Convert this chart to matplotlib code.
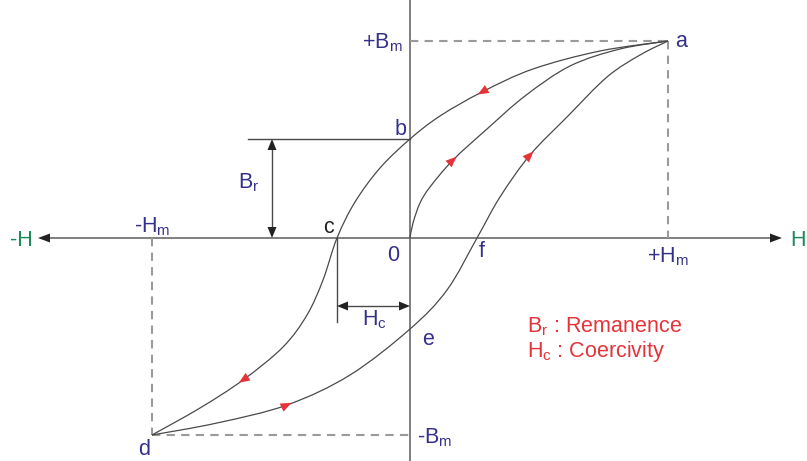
import numpy as np
import matplotlib
matplotlib.use("Agg")
import matplotlib.pyplot as plt
from matplotlib.patches import Polygon, PathPatch
from matplotlib.path import Path

plt.rcParams['font.family'] = ['Liberation Sans', 'DejaVu Sans']
plt.rcParams['mathtext.fontset'] = 'custom'
plt.rcParams['mathtext.rm'] = 'Liberation Sans'

# ---- data (arbitrary units) ----
Hm = 258
Bm = 197
Br = 99
Hc = -73

# descending branch a -> b -> c -> d
upper_H = [258, 190, 123, 72, 30, 0, -30, -55, -73, -87, -103, -127, -167, -210, -258]
upper_B = [197, 187, 169, 146, 122, 99, 70, 36, 0, -42, -77, -109, -142, -170, -197]
# ascending branch d -> e -> f -> a
lower_H = [-258, -193, -123, -60, 0, 37, 67, 90, 120, 157, 197, 230, 258]
lower_B = [-197, -185, -167, -137, -91, -52, 0, 41, 83, 121, 161, 183, 197]
# initial magnetisation 0 -> a
init_H = [0, 3, 10, 20, 43, 77, 115, 160, 210, 258]
init_B = [0, 15, 35, 51, 78, 109, 142, 172, 189, 197]

# red direction arrows: (curve, H position, direction of travel in H)
arrow_marks = [("upper", 72, -1), ("init", 43, 1), ("lower", 120, 1),
               ("upper", -167, -1), ("lower", -123, 1)]

NAVY = '#35308A'
RED = '#E5333A'
GREEN = '#1B8A5A'
LINE = '#4a4a4a'
AXIS = '#6a6a6a'
DASH = '#9a9a9a'

fig = plt.figure(figsize=(8.07, 4.61), dpi=100)
ax = fig.add_axes([0, 0, 1, 1])
ax.set_xlim(-410, 397)
ax.set_ylim(-223, 238)
ax.axis('off')

# axes
ax.plot([-360, 360], [0, 0], color=AXIS, lw=1.2, zorder=1)
ax.plot([0, 0], [-223, 238], color=AXIS, lw=1.2, zorder=1)

def tri(tip, d, length, half, color):
    d = np.asarray(d, float); d /= np.hypot(*d)
    n = np.array([-d[1], d[0]])
    tip = np.asarray(tip, float)
    base = tip - d * length
    ax.add_patch(Polygon([tip, base + n * half, base - n * half], closed=True,
                         facecolor=color, edgecolor='none', zorder=5))

tri((-372, 0), (-1, 0), 12, 4.5, '#222')
tri((372, 0), (1, 0), 12, 4.5, '#222')

# dashed guides
dkw = dict(color=DASH, lw=1.5, dashes=(4, 3), zorder=1)
ax.plot([0, Hm], [Bm, Bm], **dkw)
ax.plot([Hm, Hm], [Bm, 0], **dkw)
ax.plot([-Hm, -Hm], [0, -Bm], **dkw)
ax.plot([-Hm, 0], [-Bm, -Bm], **dkw)

# curves drawn as smooth Bezier paths through the read points
def smooth_path(H, B):
    P = np.column_stack([H, B]).astype(float)
    Q = np.vstack([P[0], P, P[-1]])
    verts = [P[0]]
    codes = [Path.MOVETO]
    for i in range(1, len(Q) - 2):
        p0, p1, p2, p3 = Q[i - 1], Q[i], Q[i + 1], Q[i + 2]
        verts += [p1 + (p2 - p0) / 6, p2 - (p3 - p1) / 6, p2]
        codes += [Path.CURVE4] * 3
    return Path(verts, codes)

curves = {"upper": (upper_H, upper_B), "lower": (lower_H, lower_B), "init": (init_H, init_B)}
for H, B in curves.values():
    ax.add_patch(PathPatch(smooth_path(H, B), facecolor='none', edgecolor=LINE,
                           lw=0.9, zorder=3))

for name, h0, s in arrow_marks:
    H, B = np.array(curves[name][0], float), np.array(curves[name][1], float)
    if H[0] > H[-1]:
        H, B = H[::-1], B[::-1]
    b0 = np.interp(h0, H, B)
    b1 = np.interp(h0 + s * 2, H, B)
    d = np.array([s * 2, b1 - b0])
    d /= np.hypot(*d)
    tri(np.array([h0, b0]) + d * 5, d, 11, 4.5, RED)

# Br and Hc construction lines
ax.plot([-162, 0], [Br, Br], color=LINE, lw=1.0, zorder=2)
ax.plot([Hc, Hc], [0, -84], color=LINE, lw=1.0, zorder=2)
ax.plot([-138, -138], [Br - 8, 8], color=LINE, lw=1.0, zorder=2)
tri((-138, Br), (0, 1), 11, 4.5, '#222')
tri((-138, 0), (0, -1), 11, 4.5, '#222')
ax.plot([Hc + 8, -8], [-68, -68], color=LINE, lw=1.0, zorder=2)
tri((Hc, -68), (-1, 0), 11, 4.5, '#222')
tri((0, -68), (1, 0), 11, 4.5, '#222')

FS = 15.5
def lab(x, y, s, ha='left', color=NAVY, va='baseline'):
    ax.text(x, y, s, ha=ha, va=va, color=color, fontsize=FS, zorder=6)

lab(-400, 0, '-H', color=GREEN, va='center_baseline')
lab(380, 0, 'H', color=GREEN, va='center_baseline')
lab(-258, 6, r'-H$_\mathregular{m}$', ha='center')
lab(258, -24, r'+H$_\mathregular{m}$', ha='center')
lab(-7, 190, r'+B$_\mathregular{m}$', ha='right')
lab(7, -205, r'-B$_\mathregular{m}$')
lab(265, 191, 'a')
lab(-3, 103, 'b', ha='right')
lab(-76, 5, 'c', ha='right', color='#222')
lab(-11, -23, '0', ha='right')
lab(69, -19, 'f')
lab(12, -107, 'e')
lab(-272, -217, 'd')
lab(-172, 50, r'B$_\mathregular{r}$')
lab(-48, -87, r'H$_\mathregular{c}$')
lab(117, -94, r'B$_\mathregular{r}$ : Remanence', color=RED)
lab(117, -119, r'H$_\mathregular{c}$ : Coercivity', color=RED)

fig.savefig('out.png', dpi=100)
